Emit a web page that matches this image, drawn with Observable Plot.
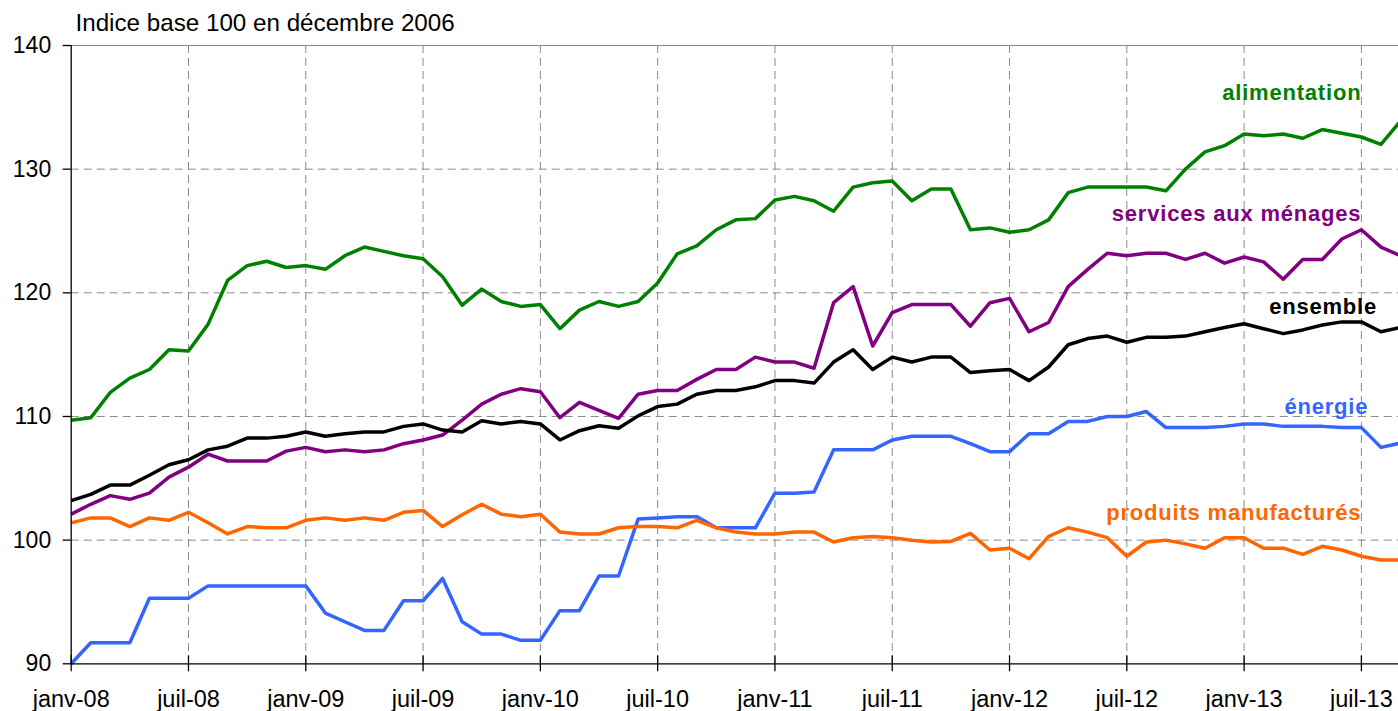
<!DOCTYPE html>
<html><head><meta charset="utf-8">
<script src="https://cdn.jsdelivr.net/npm/d3@7"></script>
<script src="https://cdn.jsdelivr.net/npm/@observablehq/plot@0.6"></script>
<style>
body{margin:0;background:#fff;overflow:hidden}
#chart svg{display:block;font-family:"Liberation Sans",Arial,sans-serif}
#chart svg g[font-weight="bold"] text{letter-spacing:0.8px}
</style>
</head><body><div id="chart"></div>
<script>
// Monthly index, janv-08 (0) to sept-13 (68)
const tickLabels = ["janv-08","juil-08","janv-09","juil-09","janv-10","juil-10","janv-11","juil-11","janv-12","juil-12","janv-13","juil-13"];
const yTicks = [90, 100, 110, 120, 130, 140];

const seriesNames = ["énergie", "produits manufacturés", "services aux ménages", "ensemble", "alimentation"];
const seriesColors = ["#3366ff", "#ff6600", "#800080", "#000000", "#008000"];

const energie = [90.0,91.7,91.7,91.7,95.3,95.3,95.3,96.3,96.3,96.3,
  96.3,96.3,96.3,94.1,93.4,92.7,92.7,95.1,95.1,96.9,
  93.4,92.4,92.4,91.9,91.9,94.3,94.3,97.1,97.1,101.7,
  101.8,101.9,101.9,101.0,101.0,101.0,103.8,103.8,103.9,107.3,
  107.3,107.3,108.1,108.4,108.4,108.4,107.8,107.15,107.15,108.6,
  108.6,109.6,109.6,110.0,110.0,110.4,109.1,109.1,109.1,109.2,
  109.4,109.4,109.2,109.2,109.2,109.1,109.1,107.5,107.85];
const manufactures = [101.4,101.8,101.8,101.1,101.8,101.6,102.25,101.4,100.5,101.1,
  101.0,101.0,101.6,101.8,101.6,101.8,101.6,102.25,102.4,101.1,
  102.05,102.9,102.1,101.9,102.1,100.65,100.5,100.5,101.0,101.1,
  101.1,101.0,101.6,101.0,100.65,100.5,100.5,100.65,100.65,99.85,
  100.2,100.3,100.2,100.0,99.85,99.9,100.55,99.2,99.35,98.5,
  100.3,101.0,100.65,100.2,98.7,99.85,100.0,99.7,99.35,100.2,
  100.2,99.35,99.35,98.85,99.5,99.2,98.7,98.4,98.4];
const services = [102.1,102.9,103.6,103.3,103.8,105.1,105.9,106.95,106.4,106.4,
  106.4,107.2,107.5,107.15,107.3,107.15,107.3,107.8,108.1,108.5,
  109.7,111.0,111.8,112.25,112.0,109.9,111.15,110.5,109.85,111.8,
  112.1,112.1,113.0,113.8,113.8,114.8,114.4,114.4,113.9,119.2,
  120.5,115.7,118.4,119.05,119.05,119.05,117.3,119.2,119.55,116.85,
  117.6,120.5,121.9,123.2,123.0,123.2,123.2,122.7,123.2,122.4,
  122.9,122.5,121.1,122.7,122.7,124.35,125.1,123.7,123.0];
const ensemble = [103.2,103.7,104.45,104.45,105.25,106.1,106.5,107.3,107.6,108.25,
  108.25,108.4,108.75,108.4,108.6,108.75,108.75,109.2,109.4,108.9,
  108.75,109.65,109.4,109.6,109.4,108.1,108.85,109.25,109.05,110.05,
  110.8,111.0,111.8,112.1,112.1,112.4,112.9,112.9,112.7,114.4,
  115.4,113.8,114.8,114.4,114.8,114.8,113.55,113.7,113.8,112.9,
  114.0,115.8,116.3,116.5,116.0,116.4,116.4,116.5,116.85,117.2,
  117.5,117.1,116.7,117.0,117.4,117.65,117.65,116.85,117.2];
const alimentation = [109.7,109.9,111.95,113.1,113.8,115.4,115.3,117.45,121.0,122.2,
  122.55,122.05,122.2,121.9,123.0,123.7,123.35,123.0,122.75,121.3,
  119.0,120.3,119.3,118.9,119.05,117.1,118.6,119.3,118.9,119.3,
  120.8,123.15,123.8,125.1,125.9,126.0,127.5,127.8,127.45,126.6,
  128.55,128.9,129.05,127.45,128.4,128.4,125.1,125.25,124.9,125.1,
  125.9,128.1,128.55,128.55,128.55,128.55,128.25,130.0,131.4,131.9,
  132.85,132.7,132.85,132.5,133.2,132.9,132.6,132.0,133.9];

const title = "Indice base 100 en décembre 2006";

const seriesValues = [energie, manufactures, services, ensemble, alimentation];
const rows = seriesNames.flatMap((s, k) => seriesValues[k].map((v, i) => ({s, i, v})));
const tickPos = tickLabels.map((_, k) => k * 6);

const grid = {stroke: "#8a8a8a", strokeWidth: 1, strokeDasharray: "8,5"};
const lab = (name, x, y) => Plot.text([name], {
  x, y, text: d => d, textAnchor: "end", lineAnchor: "bottom",
  fill: seriesColors[seriesNames.indexOf(name)], fontWeight: "bold", fontSize: 22
});

const chart = Plot.plot({
  width: 1398, height: 711,
  marginLeft: 70.7, marginRight: -2, marginTop: 45, marginBottom: 47.7,
  style: {fontFamily: '"Liberation Sans", Arial, sans-serif', color: "#000", background: "#fff"},
  x: {domain: [0, 68], axis: null, label: null},
  y: {domain: [90, 140], axis: null, label: null},
  color: {domain: seriesNames, range: seriesColors},
  marks: [
    Plot.ruleY(yTicks.slice(1, -1), grid),
    Plot.ruleX(tickPos.slice(1), grid),
    Plot.ruleY([140], {stroke: "#8a8a8a", strokeWidth: 1}),
    Plot.line(rows, {x: "i", y: "v", z: "s", stroke: "s", strokeWidth: 3.5, strokeLinejoin: "round", strokeLinecap: "butt"}),
    Plot.ruleX([0], {stroke: "#000", strokeWidth: 1.3}),
    Plot.ruleY([90], {stroke: "#000", strokeWidth: 1.3}),
    Plot.axisY(yTicks, {tickSize: 8, tickPadding: 12, fontSize: 23, strokeWidth: 1.3, label: null}),
    Plot.axisX(tickPos, {tickSize: 16, dy: -8, text: null, strokeWidth: 1.3, label: null}),
    Plot.axisX(tickPos, {tickSize: 0, tickPadding: 27, fontSize: 23.5, label: null, tickFormat: i => tickLabels[i / 6]}),
    lab("alimentation", 66, 135.6),
    lab("services aux ménages", 66, 125.8),
    lab("ensemble", 66.8, 118.3),
    lab("énergie", 66.35, 110.2),
    lab("produits manufacturés", 66, 101.6),
    Plot.text([title], {frameAnchor: "top-left", dx: 4.3, dy: -15, lineAnchor: "bottom", textAnchor: "start", fontSize: 24.2, fill: "#000"})
  ]
});
document.getElementById("chart").appendChild(chart);
</script>
</body></html>
